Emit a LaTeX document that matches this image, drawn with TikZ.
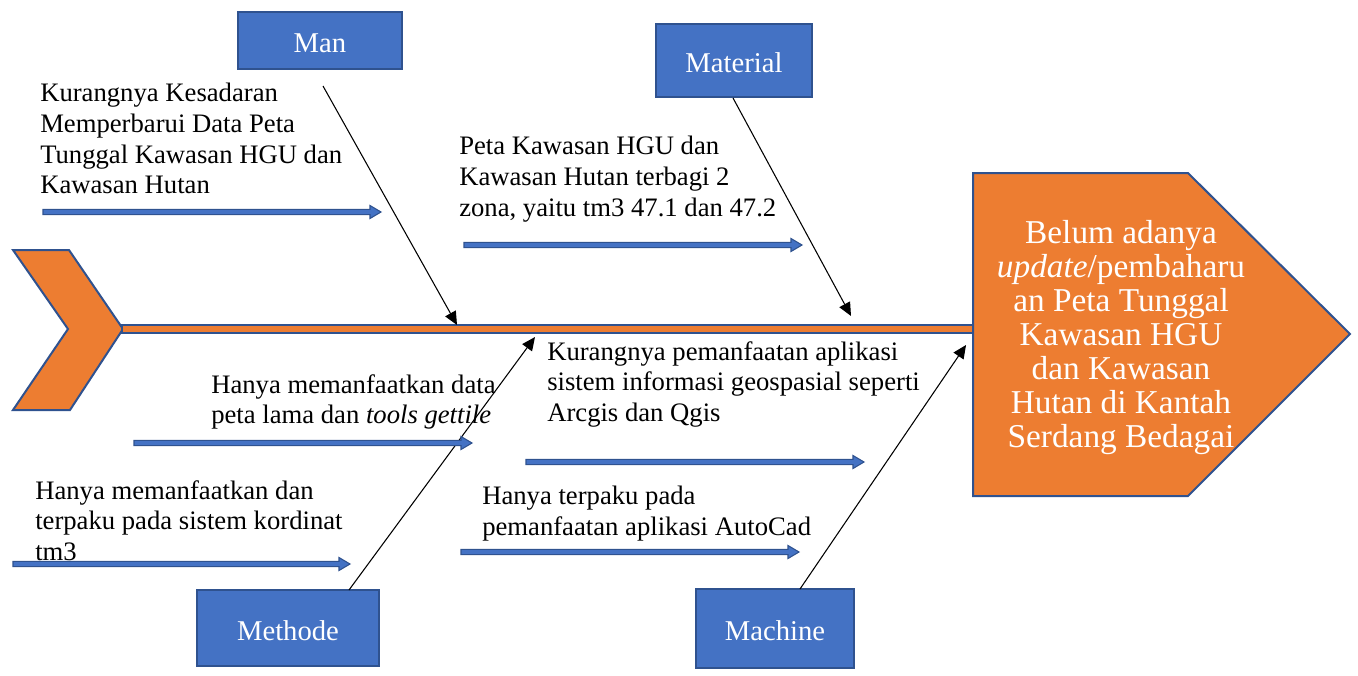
\documentclass[tikz,border=0pt]{standalone}
\usepackage{fontspec}
\setmainfont{Liberation Serif}
\usetikzlibrary{arrows.meta}
\definecolor{orangeF}{HTML}{ED7D31}
\definecolor{blueF}{HTML}{4472C4}
\definecolor{blueD}{HTML}{2F528F}
\newcommand\blockarr[3]{%
  \filldraw[barr] (#1,#3-2.7) -- (#2-11,#3-2.7) -- (#2-11,#3-6.5) -- (#2,#3) -- (#2-11,#3+6.5) -- (#2-11,#3+2.7) -- (#1,#3+2.7) -- cycle;}
\begin{document}
\begin{tikzpicture}[x=0.75pt,y=-0.75pt,
  catbox/.style={draw=blueD, line width=1.5pt, fill=blueF, text=white, inner sep=0pt, text height=18pt, text depth=0pt, font=\fontsize{21.5}{24}\selectfont},
  txt/.style={anchor=north west, align=left, inner sep=0pt, font=\fontsize{20}{23}\selectfont},
  bone/.style={black, line width=0.8pt, -{Triangle[length=10pt,width=9pt]}},
  barr/.style={fill=blueF, draw=blueD, line width=0.8pt},
  shapeF/.style={fill=orangeF, draw=blueD, line width=1.5pt}]
\useasboundingbox (0,0) rectangle (1358,675);

% tail chevron
\filldraw[shapeF] (13,250) -- (69,250) -- (123,329) -- (70,410) -- (13,410) -- (68,329) -- cycle;
% spine
\filldraw[fill=orangeF, draw=blueD, line width=1.2pt] (122,325) rectangle (973,333);
% head
\filldraw[shapeF] (973,173) -- (1188,173) -- (1350,334) -- (1188,496) -- (973,496) -- cycle;
\node[text=white, align=center, inner sep=0pt, font=\fontsize{25}{25.5}\selectfont] (head) at (1121,338)
  {Belum adanya\\\textit{update}/pembaharu\\an Peta Tunggal\\Kawasan HGU\\dan Kawasan\\Hutan di Kantah\\Serdang Bedagai};

% category boxes
\node[catbox, minimum width=123pt, minimum height=42.75pt] (man) at (320,40.5) {Man};
\node[catbox, minimum width=117pt, minimum height=54.75pt] (material) at (734,60.5) {Material};
\node[catbox, minimum width=136.5pt, minimum height=57pt] (methode) at (288,628) {Methode};
\node[catbox, minimum width=118.5pt, minimum height=59.25pt] (machine) at (775,628.5) {Machine};

% bones
\coordinate (manS) at (323,86);
\coordinate (manE) at (457,325);
\coordinate (matS) at (733,98);
\coordinate (matE) at (851,316);
\coordinate (metS) at (349,590);
\coordinate (metE) at (535,337);
\coordinate (macS) at (800,589);
\coordinate (macE) at (966,345);
\draw[bone] (manS) -- (manE);
\draw[bone] (matS) -- (matE);
\draw[bone] (metS) -- (metE);
\draw[bone] (macS) -- (macE);

% cause texts
\node[txt] (t1) at (40,83) {Kurangnya Kesadaran\\Memperbarui Data Peta\\Tunggal Kawasan HGU dan\\Kawasan Hutan};
\node[txt] (t2) at (459,136) {Peta Kawasan HGU dan\\Kawasan Hutan terbagi 2\\zona, yaitu tm3 47.1 dan 47.2};
\node[txt] (t3) at (211,374) {Hanya memanfaatkan data\\peta lama dan \textit{tools gettile}};
\node[txt] (t4) at (547,341) {Kurangnya pemanfaatan aplikasi\\sistem informasi geospasial seperti\\Arcgis dan Qgis};
\node[txt] (t5) at (35,480) {Hanya memanfaatkan dan\\terpaku pada sistem kordinat\\tm3};
\node[txt] (t6) at (482,486) {Hanya terpaku pada\\pemanfaatan aplikasi AutoCad};

% small arrows
\blockarr{43}{381}{212}
\blockarr{464}{802}{245}
\blockarr{134}{472}{443}
\blockarr{526}{864}{462}
\blockarr{13}{350}{564}
\blockarr{461}{799}{552}
\end{tikzpicture}
\end{document}
